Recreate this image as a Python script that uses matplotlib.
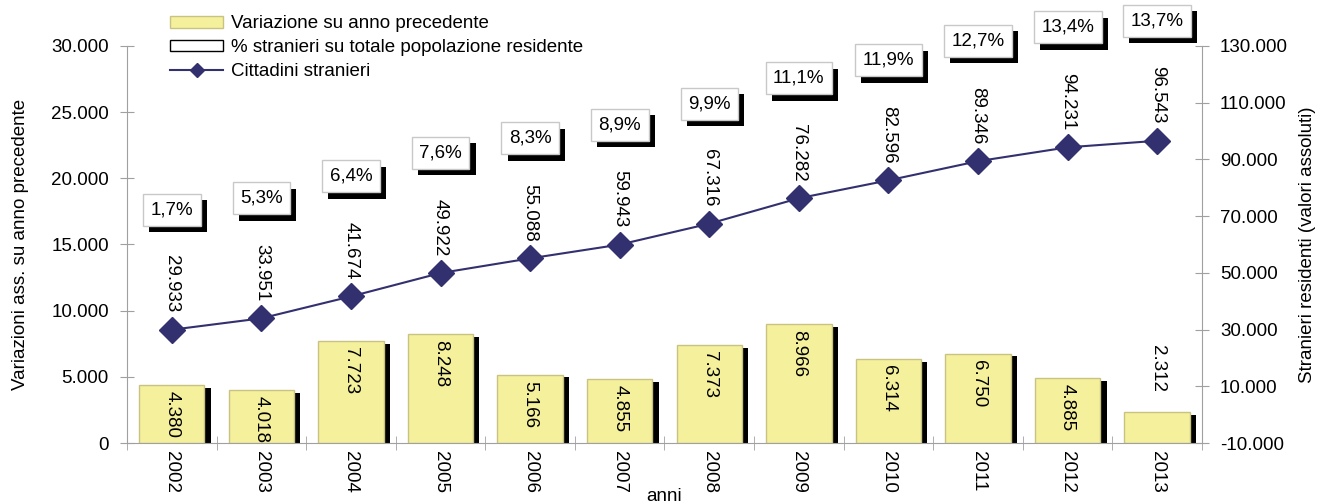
import matplotlib.pyplot as plt
import matplotlib.patheffects as pe
from matplotlib.patches import Patch
from matplotlib.lines import Line2D
from matplotlib.ticker import FuncFormatter, FixedLocator

plt.rcParams['font.family'] = ['Liberation Sans', 'DejaVu Sans']

anni = ['2002', '2003', '2004', '2005', '2006', '2007', '2008', '2009', '2010', '2011', '2012', '2013']
variazione = [4380, 4018, 7723, 8248, 5166, 4855, 7373, 8966, 6314, 6750, 4885, 2312]
stranieri = [29933, 33951, 41674, 49922, 55088, 59943, 67316, 76282, 82596, 89346, 94231, 96543]
perc = ['1,7%', '5,3%', '6,4%', '7,6%', '8,3%', '8,9%', '9,9%', '11,1%', '11,9%', '12,7%', '13,4%', '13,7%']

bar_col = '#F5F09C'
bar_edge = '#C9C383'
line_col = '#33306F'
axis_col = '#A0A0A0'
fs = 13.5


def fmt(v, pos=None):
    return f'{int(v):,}'.replace(',', '.')


fig = plt.figure(figsize=(13.23, 5.04), dpi=100)
ax = fig.add_axes([0.096, 0.121, 0.8125, 0.788])
ax2 = ax.twinx()

x = list(range(len(anni)))

# barre variazione con ombra
bars = ax.bar(x, variazione, width=0.73, color=bar_col, edgecolor=bar_edge, linewidth=1, zorder=2)
for b in bars:
    b.set_path_effects([pe.SimplePatchShadow(offset=(4.5, -2), shadow_rgbFace='black', alpha=1), pe.Normal()])

for xi, v in zip(x, variazione):
    if v > 3000:
        ax.annotate(fmt(v), (xi, v), xytext=(0, -6), textcoords='offset pixels',
                    rotation=-90, ha='center', va='top', fontsize=fs, zorder=3)
    else:
        ax.annotate(fmt(v), (xi, v), xytext=(0, 20), textcoords='offset pixels',
                    rotation=-90, ha='center', va='bottom', fontsize=fs, zorder=3)

ax.set_xlim(-0.5, len(anni) - 0.5)
ax.set_ylim(0, 30000)
ax.set_yticks(range(0, 30001, 5000))
ax.yaxis.set_major_formatter(FuncFormatter(fmt))
ax.set_xticks(x)
ax.set_xticklabels(anni, rotation=-90, fontsize=fs)
ax.xaxis.set_minor_locator(FixedLocator([i - 0.5 for i in range(len(anni) + 1)]))
ax.tick_params(axis='x', which='major', length=0, pad=6)
ax.tick_params(axis='x', which='minor', length=10, direction='inout', color=axis_col)
ax.tick_params(axis='y', length=10, direction='inout', color=axis_col, labelsize=fs, pad=8)
ax.set_ylabel('Variazioni ass. su anno precedente', fontsize=fs, labelpad=16)
ax.set_xlabel('anni', fontsize=fs, labelpad=-4)

for s in ['top', 'right']:
    ax.spines[s].set_visible(False)
for s in ['left', 'bottom']:
    ax.spines[s].set_color(axis_col)

# linea cittadini stranieri
ax2.plot(x, stranieri, color=line_col, linewidth=1.5, marker='D', markersize=13,
         markerfacecolor=line_col, markeredgecolor=line_col, zorder=3)
for xi, v, p in zip(x, stranieri, perc):
    ax2.annotate(fmt(v), (xi, v), xytext=(0, 17), textcoords='offset pixels',
                 rotation=-90, ha='center', va='bottom', fontsize=fs)
    t = ax2.annotate(p, (xi, v), xytext=(0, 120), textcoords='offset pixels',
                     ha='center', va='center', fontsize=fs,
                     bbox=dict(boxstyle='square,pad=0.4', facecolor='white', edgecolor='#C8C8C8', linewidth=1))
    t.get_bbox_patch().set_path_effects([pe.SimplePatchShadow(offset=(4.5, -4.5), shadow_rgbFace='black', alpha=1),
                                         pe.Normal()])

ax2.set_ylim(-10000, 130000)
ax2.set_yticks(range(-10000, 130001, 20000))
ax2.yaxis.set_major_formatter(FuncFormatter(fmt))
ax2.tick_params(axis='y', length=10, direction='inout', color=axis_col, labelsize=fs, pad=8)
ax2.set_ylabel('Stranieri residenti (valori assoluti)', fontsize=fs, rotation=90, labelpad=8)
for s in ['top', 'left', 'bottom']:
    ax2.spines[s].set_visible(False)
ax2.spines['right'].set_color(axis_col)

handles = [
    Patch(facecolor=bar_col, edgecolor=bar_edge, label='Variazione su anno precedente'),
    Patch(facecolor='white', edgecolor='black', label='% stranieri su totale popolazione residente'),
    Line2D([0], [0], color=line_col, marker='D', markersize=7, label='Cittadini stranieri'),
]
fig.legend(handles=handles, loc='upper left', bbox_to_anchor=(0.116, 1.003), frameon=False,
           fontsize=fs, handlelength=2.8, handleheight=0.6, labelspacing=0.36, handletextpad=0.45)

fig.savefig('out.png', dpi=100)
